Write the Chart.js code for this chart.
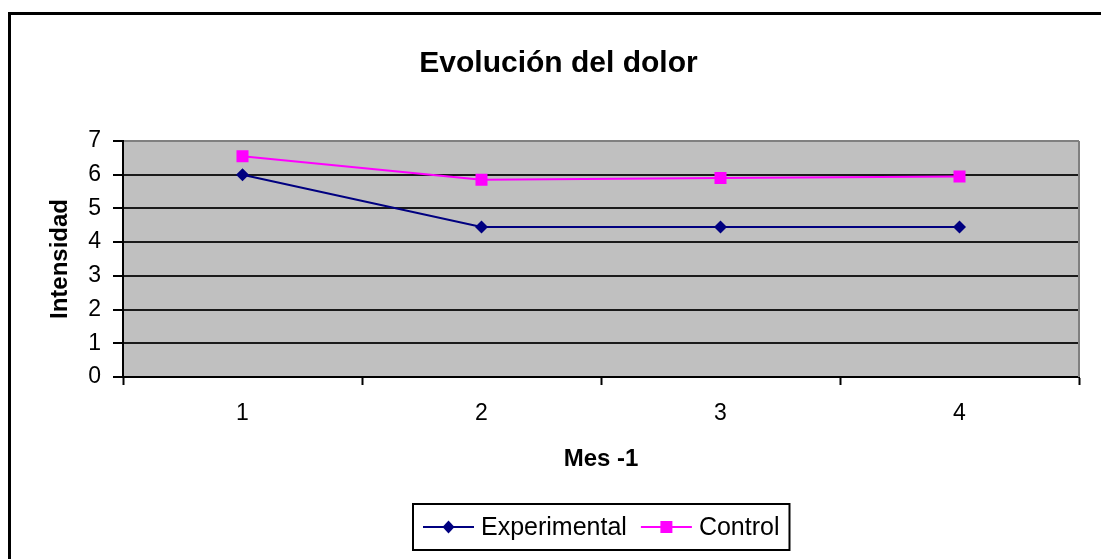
<!DOCTYPE html>
<html>
<head>
<meta charset="utf-8">
<script src="https://cdn.jsdelivr.net/npm/chart.js@4/dist/chart.umd.min.js"></script>
<style>
  html, body { margin: 0; padding: 0; background: #fff; overflow: hidden; }
  #wrap { width: 1101px; height: 559px; }
</style>
</head>
<body>
<div id="wrap"><canvas id="dolor-chart" width="1101" height="559"></canvas></div>
<script>
// data
const meses = ['1', '2', '3', '4'];
const experimental = [6, 4.45, 4.45, 4.45];
const control = [6.55, 5.85, 5.9, 5.95];
const yTicks = [0, 1, 2, 3, 4, 5, 6, 7];

const FONT = '"Liberation Sans", Arial, sans-serif';

// white page, outer frame and grey plot area
const plotBack = {
  id: 'plotBack',
  beforeDraw(chart) {
    const {ctx, chartArea: a} = chart;
    ctx.save();
    ctx.fillStyle = '#fff';
    ctx.fillRect(0, 0, chart.width, chart.height);
    ctx.strokeStyle = '#000';
    ctx.lineWidth = 3;
    ctx.strokeRect(9.5, 13.5, 1300, 1000);
    ctx.fillStyle = '#c0c0c0';
    ctx.fillRect(a.left, a.top, a.right - a.left, a.bottom - a.top);
    ctx.restore();
  },
  beforeDatasetsDraw(chart) {
    const {ctx, chartArea: a} = chart;
    ctx.save();
    ctx.strokeStyle = '#808080';
    ctx.lineWidth = 2;
    ctx.beginPath();
    ctx.moveTo(a.right, a.top);
    ctx.lineTo(a.right, a.bottom);
    ctx.stroke();
    ctx.restore();
  }
};

function marker(ctx, style, x, y, color) {
  ctx.fillStyle = color;
  ctx.beginPath();
  if (style === 'rectRot') {
    ctx.moveTo(x, y - 6.5);
    ctx.lineTo(x + 6, y);
    ctx.lineTo(x, y + 6.5);
    ctx.lineTo(x - 6, y);
    ctx.closePath();
  } else {
    ctx.rect(x - 6, y - 6, 12, 12);
  }
  ctx.fill();
}

// excel style legend: line + marker + label in a framed box
const legendBox = {
  id: 'legendBox',
  afterDraw(chart) {
    const {ctx, chartArea: a} = chart;
    ctx.save();
    ctx.font = '25px ' + FONT;
    const lineLen = 51, gapText = 7, gapItem = 14, padX = 10;
    const items = chart.data.datasets.map(ds => ({ds, w: ctx.measureText(ds.label).width}));
    const total = padX * 2 + items.reduce((s, it) => s + lineLen + gapText + it.w, 0) + gapItem * (items.length - 1);
    const top = 504, h = 46, mid = top + h / 2;
    let x = Math.round((a.left + a.right) / 2 - total / 2);
    ctx.fillStyle = '#fff';
    ctx.fillRect(x, top, total, h);
    ctx.strokeStyle = '#000';
    ctx.lineWidth = 2;
    ctx.strokeRect(x, top, total, h);
    x += padX;
    items.forEach(({ds, w}) => {
      ctx.strokeStyle = ds.borderColor;
      ctx.lineWidth = 2;
      ctx.beginPath();
      ctx.moveTo(x, mid);
      ctx.lineTo(x + lineLen, mid);
      ctx.stroke();
      marker(ctx, ds.pointStyle, x + lineLen / 2, mid, ds.pointBackgroundColor);
      x += lineLen + gapText;
      ctx.fillStyle = '#000';
      ctx.textBaseline = 'middle';
      ctx.textAlign = 'left';
      ctx.fillText(ds.label, x, mid + 1);
      x += w + gapItem;
    });
    ctx.restore();
  }
};

new Chart(document.getElementById('dolor-chart'), {
  type: 'line',
  data: {
    labels: meses,
    datasets: [{
      label: 'Experimental',
      data: experimental,
      borderColor: '#000080',
      backgroundColor: '#000080',
      pointBackgroundColor: '#000080',
      pointBorderColor: '#000080',
      pointStyle: 'rectRot',
      pointRadius: 6.5,
      pointBorderWidth: 0,
      borderWidth: 2,
      tension: 0
    }, {
      label: 'Control',
      data: control,
      borderColor: '#ff00ff',
      backgroundColor: '#ff00ff',
      pointBackgroundColor: '#ff00ff',
      pointBorderColor: '#ff00ff',
      pointStyle: 'rect',
      pointRadius: 8.5,
      pointBorderWidth: 0,
      borderWidth: 2,
      tension: 0
    }]
  },
  options: {
    responsive: false,
    animation: false,
    layout: { padding: { left: 38, right: 22, top: 0, bottom: 0 } },
    plugins: {
      legend: { display: false },
      tooltip: { enabled: false },
      title: {
        display: true,
        text: 'Evolución del dolor',
        color: '#000',
        font: { family: FONT, size: 30, weight: 'bold', lineHeight: 1.2 },
        padding: { top: 46, bottom: 59 }
      }
    },
    scales: {
      x: {
        offset: true,
        grid: { offset: true, drawOnChartArea: false, drawTicks: true, tickLength: 8, color: '#000', tickWidth: 2 },
        border: { display: true, color: '#000', width: 2 },
        ticks: { color: '#000', padding: 15, font: { family: FONT, size: 23 }, maxRotation: 0 },
        title: {
          display: true,
          text: 'Mes -1',
          color: '#000',
          font: { family: FONT, size: 24, weight: 'bold', lineHeight: 1.2 },
          padding: { top: 0, bottom: 85 }
        },
        afterFit(scale) { scale.height = 182; }
      },
      y: {
        min: 0,
        max: 7,
        afterBuildTicks(scale) { scale.ticks = yTicks.map(v => ({value: v})); },
        grid: {
          color: c => (c.tick && c.tick.value === 7 ? '#808080' : '#1a1a1a'),
          lineWidth: 2,
          tickColor: '#000',
          tickLength: 10,
          tickWidth: 2
        },
        border: { display: true, color: '#000', width: 2 },
        ticks: { color: '#000', padding: 12, font: { family: FONT, size: 23 } },
        title: {
          display: true,
          text: 'Intensidad',
          color: '#000',
          font: { family: FONT, size: 24, weight: 'bold', lineHeight: 1.2 },
          padding: { top: 8, bottom: 0 }
        },
        afterFit(scale) { scale.width = 85; }
      }
    }
  },
  plugins: [plotBack, legendBox]
});
</script>
</body>
</html>
